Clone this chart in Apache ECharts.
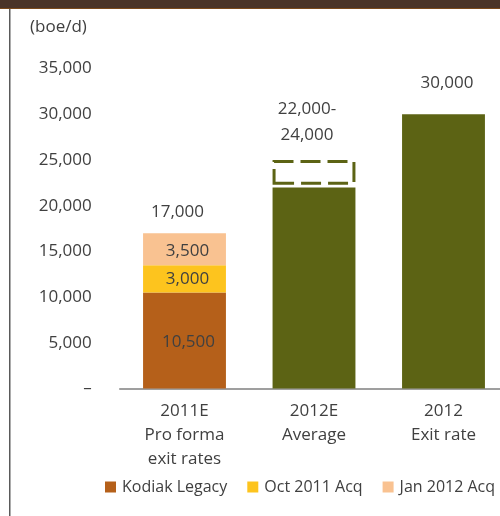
<!DOCTYPE html>
<html><head><meta charset="utf-8">
<script src="https://cdn.jsdelivr.net/npm/echarts@6/dist/echarts.min.js"></script>
<style>html,body{margin:0;padding:0;background:#fff}#c{width:500px;height:516px}</style>
</head><body><div id="c"></div>
<script>
const categories = ['2011E\nPro forma\nexit rates', '2012E\nAverage', '2012\nExit rate'];
const kodiakLegacy = [10500, '-', '-'];
const oct2011Acq = [3000, '-', '-'];
const jan2012Acq = [3500, '-', '-'];
const totals = ['-', 22000, 30000];
const rangeGap = ['-', 300, '-'];
const rangeBox = ['-', 2700, '-'];
const totalLabels = ['17,000', '22,000-\n24,000', '30,000'];
const yTicks = [0, 5000, 10000, 15000, 20000, 25000, 30000, 35000];

const font = '"Open Sans", "Liberation Sans", sans-serif';
const txt = '#404040';
const olive = '#5c6314';
const labelOffsets = [[-7, -8], [-7, -12], [3.5, -18]];
const chart = echarts.init(document.getElementById('c'));
chart.setOption({
  animation: false,
  textStyle: {fontFamily: font},
  graphic: [
    {type: 'rect', shape: {x: 0, y: 0, width: 500, height: 9}, style: {fill: '#4a3428'}},
    {type: 'rect', shape: {x: 0, y: 8, width: 500, height: 1}, style: {fill: '#7a4a1c'}},
    {type: 'rect', shape: {x: 9, y: 9, width: 1.5, height: 507}, style: {fill: '#5a5a5a'}},
    {type: 'text', left: 30, top: 19, style: {text: '(boe/d)', fill: txt, font: '17px ' + font}}
  ],
  legend: {
    top: 479, left: 105, padding: 0,
    icon: 'rect', itemWidth: 11, itemHeight: 11, itemGap: 20,
    data: ['Kodiak Legacy', 'Oct 2011 Acq', 'Jan 2012 Acq'],
    textStyle: {color: txt, fontSize: 16, fontFamily: font, padding: [0, 0, 0, 1]}
  },
  grid: {left: 119.75, width: 388.5, top: 68.6, bottom: 516 - 388.6, outerBoundsMode: 'none', containLabel: false},
  xAxis: {
    type: 'category', data: categories,
    axisLine: {lineStyle: {color: '#808080', width: 1.5}},
    axisTick: {show: false},
    axisLabel: {color: txt, fontSize: 17, lineHeight: 24, margin: 11, fontFamily: font}
  },
  yAxis: {
    type: 'value', min: 0, max: 35000, interval: 5000,
    splitLine: {show: false}, axisLine: {show: false}, axisTick: {show: false},
    axisLabel: {color: txt, fontSize: 17, margin: 28, fontFamily: font,
      formatter: v => yTicks.includes(v) ? (v === 0 ? '–' : v.toLocaleString('en-US')) : ''}
  },
  series: [
    {name: 'Kodiak Legacy', type: 'bar', stack: 's', data: kodiakLegacy, barWidth: '64%',
     itemStyle: {color: '#b5601a'},
     label: {show: true, position: 'inside', offset: [4, 2], color: txt, fontSize: 17, formatter: p => p.value.toLocaleString('en-US')}},
    {name: 'Oct 2011 Acq', type: 'bar', stack: 's', data: oct2011Acq,
     itemStyle: {color: '#fdc41e'},
     label: {show: true, position: 'inside', offset: [3, 0], color: txt, fontSize: 17, formatter: p => p.value.toLocaleString('en-US')}},
    {name: 'Jan 2012 Acq', type: 'bar', stack: 's', data: jan2012Acq,
     itemStyle: {color: '#f9c291'},
     label: {show: true, position: 'inside', offset: [3, 2], color: txt, fontSize: 17, formatter: p => p.value.toLocaleString('en-US')}},
    {name: 'Total', type: 'bar', stack: 's', data: totals,
     itemStyle: {color: olive}},
    {name: 'Gap', type: 'bar', stack: 's', data: rangeGap, silent: true,
     itemStyle: {color: 'rgba(0,0,0,0)'}},
    {name: 'Range', type: 'bar', stack: 's', data: rangeBox,
     itemStyle: {color: 'rgba(0,0,0,0)', borderColor: olive, borderWidth: 3, borderType: [20, 7]}},
    {name: 'Labels', type: 'bar', stack: 's', silent: true,
     data: [0, 0, 0].map((v, i) => ({value: v, label: {offset: labelOffsets[i]}})),
     itemStyle: {color: 'rgba(0,0,0,0)'},
     label: {show: true, position: 'top', color: txt, fontSize: 17, lineHeight: 26,
       distance: 0, formatter: p => totalLabels[p.dataIndex]}}
  ]
});
</script></body></html>
